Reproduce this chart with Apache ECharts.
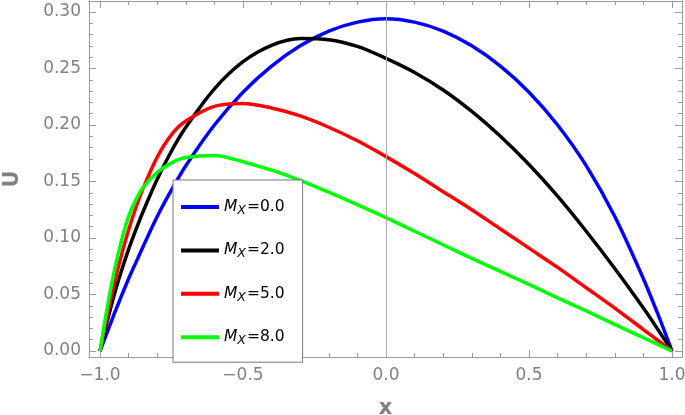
<!DOCTYPE html>
<html>
<head>
<meta charset="utf-8">
<script src="https://cdn.jsdelivr.net/npm/echarts@6/dist/echarts.min.js"></script>
<style>html,body{margin:0;padding:0;background:#fff}#c{width:685px;height:415px}</style>
</head>
<body>
<div id="c"></div>
<script>
// ---- data ----
const xs = [-1, -0.975, -0.95, -0.925, -0.9, -0.875, -0.85, -0.8, -0.75, -0.7, -0.6, -0.5, -0.4, -0.3, -0.2, -0.1, 0, 0.1, 0.2, 0.3, 0.4, 0.5, 0.6, 0.7, 0.8, 0.9, 0.95, 1];
const uM0 = [0, 0.0165, 0.033, 0.0488, 0.064, 0.078, 0.092, 0.119, 0.1425, 0.164, 0.200, 0.229, 0.252, 0.270, 0.283, 0.291, 0.294, 0.291, 0.283, 0.270, 0.252, 0.229, 0.200, 0.164, 0.119, 0.064, 0.033, 0];
const uM2 = [0, 0.026, 0.050, 0.071, 0.090, 0.107, 0.123, 0.152, 0.177, 0.198, 0.232, 0.256, 0.2705, 0.2765, 0.2755, 0.2695, 0.259, 0.2465, 0.231, 0.212, 0.190, 0.165, 0.137, 0.106, 0.073, 0.038, 0.0193, 0];
const uM5 = [0, 0.031, 0.060, 0.085, 0.107, 0.1265, 0.1435, 0.1715, 0.1915, 0.2035, 0.2165, 0.219, 0.215, 0.208, 0.198, 0.186, 0.172, 0.157, 0.141, 0.125, 0.108, 0.091, 0.074, 0.056, 0.038, 0.019, 0.0095, 0];
const uM8 = [0, 0.038, 0.071, 0.0975, 0.119, 0.1335, 0.1445, 0.158, 0.1665, 0.1712, 0.173, 0.1675, 0.160, 0.151, 0.1405, 0.1295, 0.118, 0.106, 0.094, 0.082, 0.0705, 0.059, 0.047, 0.0355, 0.0235, 0.0118, 0.0059, 0];
const seriesNames = ['M_x=0.0', 'M_x=2.0', 'M_x=5.0', 'M_x=8.0'];
const mValues = ['0.0', '2.0', '5.0', '8.0'];
const seriesColors = ['#0000ff', '#000000', '#ff0000', '#00ff00'];
const xMajor = [-1, -0.5, 0, 0.5, 1];
const xMajorLabels = ['\u22121.0', '\u22120.5', '0.0', '0.5', '1.0'];
const xMinor = [-1, -0.9, -0.8, -0.7, -0.6, -0.5, -0.4, -0.3, -0.2, -0.1, 0, 0.1, 0.2, 0.3, 0.4, 0.5, 0.6, 0.7, 0.8, 0.9, 1];
const yMajor = [0, 0.05, 0.10, 0.15, 0.20, 0.25, 0.30];
const yMajorLabels = ['0.00', '0.05', '0.10', '0.15', '0.20', '0.25', '0.30'];
const yMinor = [0,0.01,0.02,0.03,0.04,0.05,0.06,0.07,0.08,0.09,0.10,0.11,0.12,0.13,0.14,0.15,0.16,0.17,0.18,0.19,0.20,0.21,0.22,0.23,0.24,0.25,0.26,0.27,0.28,0.29,0.30];

const allU = [uM0, uM2, uM5, uM8];
const X_MIN = -1.0385, X_MAX = 1.035, Y_MIN = -0.0053, Y_MAX = 0.3097;
const FONT = 'DejaVu Sans';
const frameColor = '#9a9a9a';
const labelColor = '#808080';

function fmtX(v){ const i = xMajor.findIndex(t => Math.abs(t - v) < 1e-9); return i >= 0 ? xMajorLabels[i] : ''; }
function fmtY(v){ const i = yMajor.findIndex(t => Math.abs(t - v) < 1e-9); return i >= 0 ? yMajorLabels[i] : ''; }

function xAx(pos, ticks, len, labels, extra){
  return Object.assign({
    type: 'value', min: X_MIN, max: X_MAX, position: pos,
    axisLine: { show: true, onZero: false, lineStyle: { color: frameColor, width: 1 } },
    splitLine: { show: false },
    axisTick: { show: true, inside: true, length: len, customValues: ticks, lineStyle: { color: frameColor, width: 1 } },
    axisLabel: labels ? { show: true, customValues: xMajor, formatter: fmtX, color: labelColor, fontSize: 17, fontFamily: FONT, margin: 10 } : { show: false }
  }, extra || {});
}
function yAx(pos, ticks, len, labels, extra){
  return Object.assign({
    type: 'value', min: Y_MIN, max: Y_MAX, position: pos,
    axisLine: { show: true, onZero: false, lineStyle: { color: frameColor, width: 1 } },
    splitLine: { show: false },
    axisTick: { show: true, inside: true, length: len, customValues: ticks, lineStyle: { color: frameColor, width: 1 } },
    axisLabel: labels ? { show: true, customValues: yMajor, formatter: fmtY, color: labelColor, fontSize: 17, fontFamily: FONT, margin: 8 } : { show: false }
  }, extra || {});
}

const chart = echarts.init(document.getElementById('c'), null, { renderer: 'canvas' });

const series = allU.map((u, k) => ({
  name: seriesNames[k], type: 'line', xAxisIndex: 0, yAxisIndex: 0,
  data: xs.map((x, i) => [x, u[i]]),
  smooth: 0.3, symbol: 'none', z: 3,
  lineStyle: { color: seriesColors[k], width: 3.5 },
  itemStyle: { color: seriesColors[k] }
}));
series.unshift({
  name: 'axis0', type: 'line', data: [], z: 1, silent: true,
  markLine: { silent: true, symbol: 'none', animation: false, label: { show: false },
    lineStyle: { color: '#a8a8a8', width: 1, type: 'solid' }, data: [{ xAxis: 0 }] }
});

chart.setOption({
  animation: false,
  backgroundColor: '#ffffff',
  grid: { left: 89, right: 3, top: 1, bottom: 58, containLabel: false, outerBoundsMode: 'none' },
  xAxis: [
    xAx('bottom', xMajor, 7, true, { name: 'x', nameLocation: 'middle', nameGap: 41,
      nameTextStyle: { color: labelColor, fontSize: 21, fontWeight: 'bold', fontFamily: FONT } }),
    xAx('bottom', xMinor, 4, false),
    xAx('top', xMajor, 7, false),
    xAx('top', xMinor, 4, false)
  ],
  yAxis: [
    yAx('left', yMajor, 7, true, { name: 'U', nameLocation: 'middle', nameGap: 66, nameRotate: 90,
      nameTextStyle: { color: labelColor, fontSize: 21, fontWeight: 'bold', fontFamily: FONT } }),
    yAx('left', yMinor, 4, false),
    yAx('right', yMajor, 7, false),
    yAx('right', yMinor, 4, false)
  ],
  legend: {
    data: seriesNames, orient: 'vertical', left: 173, top: 180,
    padding: [19, 18, 15, 8], itemGap: 25.4, itemWidth: 38, itemHeight: 4, icon: 'rect',
    backgroundColor: '#ffffff', borderColor: '#777777', borderWidth: 1,
    formatter: function(name){ const k = seriesNames.indexOf(name); return '{m|M}{s|X}{t|=' + mValues[k] + '}'; },
    textStyle: { fontFamily: FONT, color: '#000', rich: {
      m: { fontStyle: 'italic', fontSize: 15.5, fontFamily: FONT, color: '#000', lineHeight: 20, verticalAlign: 'middle' },
      s: { fontStyle: 'italic', fontSize: 12.5, fontFamily: FONT, color: '#000', lineHeight: 20, verticalAlign: 'bottom', padding: [0, 1, 0, 0] },
      t: { fontSize: 15.5, fontFamily: FONT, color: '#000', lineHeight: 20, verticalAlign: 'middle' }
    } },
    z: 10
  },
  series: series
});
</script>
</body>
</html>
